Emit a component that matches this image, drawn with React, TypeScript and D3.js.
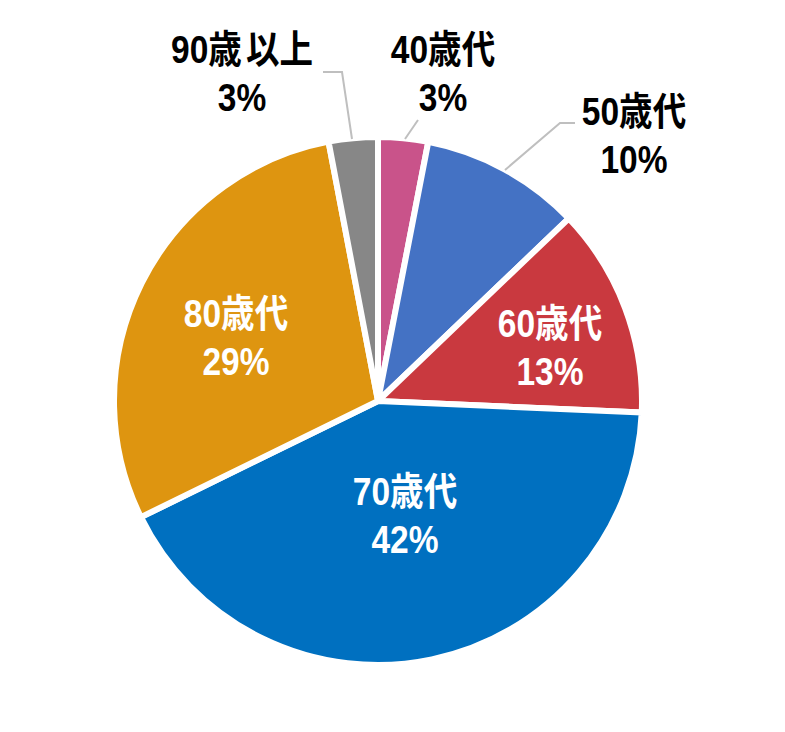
import React from "react";
import * as d3 from "d3";

const categories = ["40歳代", "50歳代", "60歳代", "70歳代", "80歳代", "90歳 以上"];
const shares = [3.05, 9.8, 12.85, 42.05, 29.25, 3.0];
const percentLabels = ["3%", "10%", "13%", "42%", "29%", "3%"];
const colors = ["#C9538A", "#4472C4", "#C9393F", "#0070C0", "#DE9510", "#878787"];

// label layout: [centerX, baseline1] and text colour; leader polyline points
const labelLayout = [
  { x: 443, y: 63, fill: "#000", leader: [[405, 139], [418, 120]] },
  { x: 634, y: 125, fill: "#000", leader: [[505, 170], [560, 123], [575, 123]] },
  { x: 550, y: 337, fill: "#fff", leader: null },
  { x: 405, y: 505, fill: "#fff", leader: null },
  { x: 236, y: 327, fill: "#fff", leader: null },
  { x: 242, y: 63, fill: "#000", leader: [[352, 139], [342, 72], [323, 72]] },
];

const W = 785;
const H = 732;
const cx = 378;
const cy = 401;
const R = 264;

export default function App() {
  const pie = d3.pie<number>().value((d) => d).sort(null);
  const arcs = pie(shares);
  const arc = d3.arc<d3.PieArcDatum<number>>().innerRadius(0).outerRadius(R);
  const line = d3.line();
  const font = "'Liberation Sans', 'Noto Sans CJK JP', sans-serif";
  return (
    <svg
      width={W}
      height={H}
      style={{ position: "absolute", left: 0, top: 0, background: "#fff" }}
    >
      <g transform={`translate(${cx},${cy})`}>
        {arcs.map((a, i) => (
          <path key={i} d={arc(a) || ""} fill={colors[i]} stroke="#fff" strokeWidth={6} strokeLinejoin="round" />
        ))}
      </g>
      {labelLayout.map((l, i) =>
        l.leader ? (
          <path
            key={"l" + i}
            d={line(l.leader as [number, number][]) || ""}
            fill="none"
            stroke="#BFBFBF"
            strokeWidth={2}
          />
        ) : null
      )}
      {labelLayout.map((l, i) => (
        <text
          key={"t" + i}
          transform={`translate(${l.x},${l.y}) scale(0.86,1)`}
          textAnchor="middle"
          fontFamily={font}
          fontWeight="bold"
          fontSize={39}
          fill={l.fill}
        >
          <tspan x={0} y={0} wordSpacing={-6}>{categories[i]}</tspan>
          <tspan x={0} y={48}>{percentLabels[i]}</tspan>
        </text>
      ))}
    </svg>
  );
}
